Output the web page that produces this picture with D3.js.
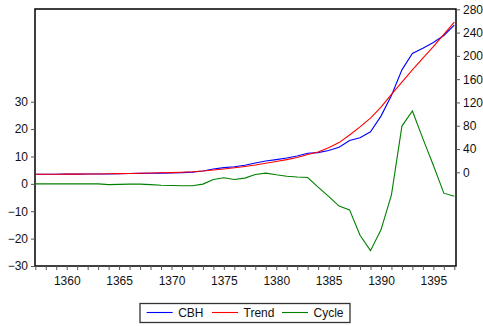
<!DOCTYPE html>
<html>
<head>
<meta charset="utf-8">
<script src="https://cdn.jsdelivr.net/npm/d3@7"></script>
<style>
  html, body { margin: 0; padding: 0; background: #fff; }
  svg { display: block; font-family: Arial, "Liberation Sans", sans-serif; }
</style>
</head>
<body>
<svg id="chart" width="483" height="326"></svg>
<script>
const years = d3.range(1357, 1398);
const cbh = [-3.4,-3.3,-3.3,-3.2,-3.1,-3.0,-2.9,-2.9,-2.5,-2.1,-1.8,-1.6,-1.4,-1.1,-0.5,0.3,2.1,5.6,8.0,9.5,12.1,15.9,19.4,21.8,24.6,28.0,32.8,33.8,37.4,42.9,54.5,59.2,69.5,96.5,132,176,204,213,223,235,253];
const trend = [-3.4,-3.3,-3.3,-3.2,-3.1,-3.0,-2.8,-2.6,-2.3,-2.0,-1.7,-1.3,-0.9,-0.5,0.2,1.0,2.2,4.0,5.8,7.9,10.0,12.5,15.5,18.5,21.8,25.5,30.5,35,42,51,64,78,93,112,134,155,176,196,216,237,258];
const cycle = [0,0,0,0,0,0,0,-0.3,-0.2,-0.1,-0.1,-0.3,-0.5,-0.6,-0.7,-0.7,-0.1,1.6,2.2,1.6,2.1,3.4,3.9,3.3,2.8,2.5,2.3,-1.2,-4.6,-8.1,-9.5,-18.8,-24.4,-16.8,-4.0,21.1,26.6,16.5,6.8,-3.4,-4.5];
const leftTicks = [-30,-20,-10,0,10,20,30];
const rightTicks = [0,40,80,120,160,200,240,280];
const xLabelTicks = [1360,1365,1370,1375,1380,1385,1390,1395];
const seriesNames = ["CBH","Trend","Cycle"];
const seriesColors = ["#0000ff","#ff0000","#008000"];

const svg = d3.select("#chart");
const L = 35, R = 456, T = 9, B = 266;

const x = d3.scaleLinear().domain([1357, 1397]).range([35.3, 454.3]);
const yL = d3.scaleLinear().domain([-30, 30]).range([266, 101.7]);
const yR = d3.scaleLinear().domain([0, 280]).range([172.3, 9.3]);

// frame
svg.append("rect").attr("x", L).attr("y", T).attr("width", R - L).attr("height", B - T)
  .attr("fill", "none").attr("stroke", "#000").attr("stroke-width", 1.5);

function styleAxis(g) {
  g.select(".domain").remove();
  g.selectAll(".tick line").attr("stroke", "#555").attr("stroke-width", 1);
  g.selectAll(".tick text").attr("fill", "#111").style("font-size", "12px")
    .style("font-family", "Arial, 'Liberation Sans', sans-serif");
}

// bottom axis: ticks each year, labels every 5
const gx = svg.append("g").attr("transform", `translate(0,${B})`)
  .call(d3.axisBottom(x).tickValues(years).tickSize(4).tickPadding(6)
    .tickFormat(d => xLabelTicks.includes(d) ? String(d) : ""));
styleAxis(gx);

const gl = svg.append("g").attr("transform", `translate(${L},0)`)
  .call(d3.axisLeft(yL).tickValues(leftTicks).tickSize(4).tickPadding(3).tickFormat(d3.format("d")));
styleAxis(gl);

const gr = svg.append("g").attr("transform", `translate(${R},0)`)
  .call(d3.axisRight(yR).tickValues(rightTicks).tickSize(4).tickPadding(3).tickFormat(d3.format("d")));
styleAxis(gr);

// lines
const lineL = d3.line().x((d, i) => x(years[i])).y(d => yL(d));
const lineR = d3.line().x((d, i) => x(years[i])).y(d => yR(d));

svg.append("path").datum(cycle).attr("d", lineL).attr("fill", "none")
  .attr("stroke", seriesColors[2]).attr("stroke-width", 1.1);
svg.append("path").datum(cbh).attr("d", lineR).attr("fill", "none")
  .attr("stroke", seriesColors[0]).attr("stroke-width", 1.1);
svg.append("path").datum(trend).attr("d", lineR).attr("fill", "none")
  .attr("stroke", seriesColors[1]).attr("stroke-width", 1.1);

// legend
const lg = svg.append("g");
lg.append("rect").attr("x", 140).attr("y", 303.5).attr("width", 210).attr("height", 19)
  .attr("fill", "#fff").attr("stroke", "#333").attr("stroke-width", 1.3);
const legendX = [146.7, 212, 282];
seriesNames.forEach((n, i) => {
  lg.append("line").attr("x1", legendX[i]).attr("x2", legendX[i] + 26)
    .attr("y1", 312.5).attr("y2", 312.5).attr("stroke", seriesColors[i]).attr("stroke-width", 1.1);
  lg.append("text").attr("x", legendX[i] + 31.5).attr("y", 317)
    .style("font-size", "12px").attr("fill", "#111").text(n);
});
</script>
</body>
</html>
